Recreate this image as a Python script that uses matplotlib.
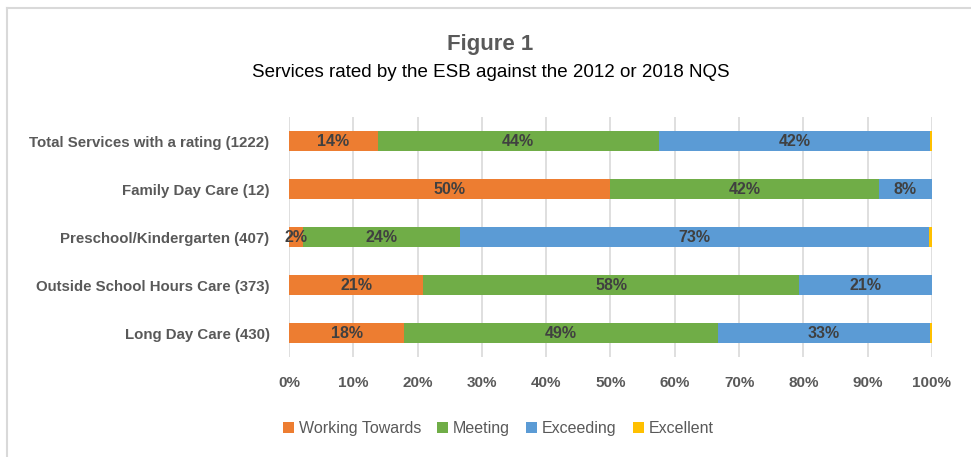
import numpy as np
import matplotlib
matplotlib.use("Agg")
import matplotlib.pyplot as plt

categories = ['Long Day Care (430)', 'Outside School Hours Care (373)',
              'Preschool/Kindergarten (407)', 'Family Day Care (12)',
              'Total Services with a rating (1222)']
series = ['Working Towards', 'Meeting', 'Exceeding', 'Excellent']
working = [17.9, 20.9, 2.2, 50.0, 13.8]
meeting = [48.8, 58.4, 24.4, 41.7, 43.7]
exceeding = [33.0, 20.7, 72.9, 8.3, 42.2]
excellent = [0.3, 0.0, 0.5, 0.0, 0.3]
colors = ['#ED7D31', '#70AD47', '#5B9BD5', '#FFC000']
ticks = np.arange(0, 101, 10)

plt.rcParams['font.family'] = ['Liberation Sans', 'DejaVu Sans']

fig = plt.figure(figsize=(9.71, 4.57), dpi=100)
ax = fig.add_axes([0.2976, 0.2188, 0.6622, 0.525])

y = np.arange(len(categories))
left = np.zeros(len(categories))
for name, vals, c in zip(series, [working, meeting, exceeding, excellent], colors):
    vals = np.array(vals)
    bars = ax.barh(y, vals, left=left, height=0.41, color=c, label=name, zorder=3)
    if name != 'Excellent':
        for b, v in zip(bars, vals):
            if v > 0:
                ax.text(b.get_x() + b.get_width() / 2, b.get_y() + b.get_height() / 2,
                        f"{v:.0f}%", ha='center', va='center', fontsize=11.5,
                        fontweight='bold', color='#404040', zorder=4)
    left += vals

ax.set_xlim(0, 100)
ax.set_ylim(-0.5, 4.5)
ax.set_xticks(ticks)
ax.set_xticklabels([f"{t}%" for t in ticks], fontsize=11, fontweight='bold',
                   color='#595959')
ax.set_yticks(y)
ax.set_yticklabels(categories, fontsize=10.8, fontweight='bold', color='#595959')
ax.tick_params(axis='both', length=0)
ax.tick_params(axis='x', pad=14)
ax.tick_params(axis='y', pad=14)
ax.grid(axis='x', color='#D9D9D9', linewidth=1.2, zorder=0)
for s in ax.spines.values():
    s.set_visible(False)

fig.text(0.505, 0.903, 'Figure 1', ha='center', va='center', fontsize=16,
         fontweight='bold', color='#595959')
fig.text(0.505, 0.842, 'Services rated by the ESB against the 2012 or 2018 NQS',
         ha='center', va='center', fontsize=13.5, color='black')

fig.legend(loc='center', bbox_to_anchor=(0.513, 0.063), ncol=4, frameon=False,
           handlelength=0.7, handleheight=0.7, handletextpad=0.3, columnspacing=1.0,
           prop={'size': 11.5}, labelcolor='#595959')

# chart frame (top and left edges visible)
fig.add_artist(plt.Line2D([0.0075, 1.0], [0.982, 0.982], color='#D9D9D9', linewidth=1.5))
fig.add_artist(plt.Line2D([0.0075, 0.0075], [0.0, 0.982], color='#D9D9D9', linewidth=1.5))

fig.savefig('out.png', dpi=100)
